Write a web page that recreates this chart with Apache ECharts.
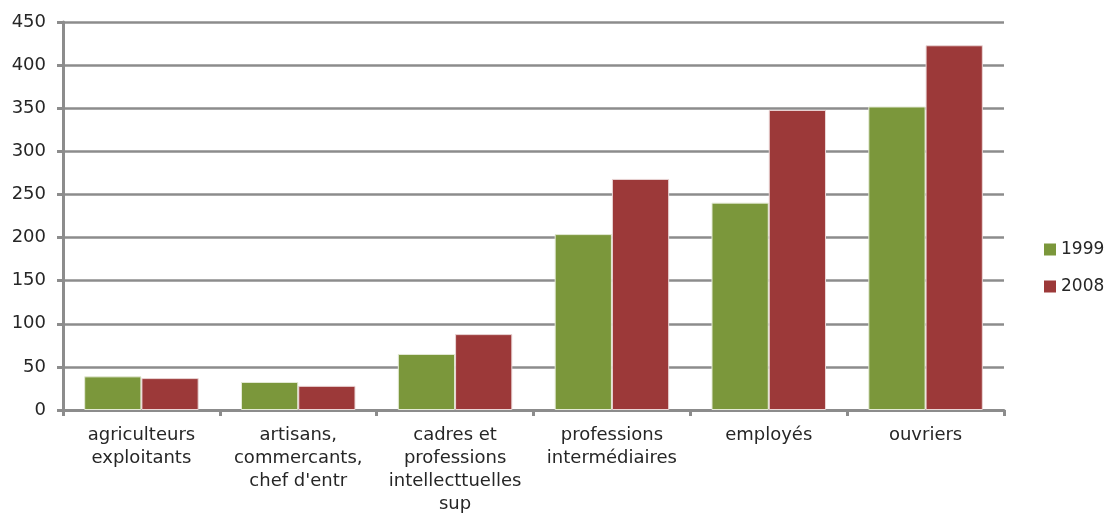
<!DOCTYPE html>
<html>
<head>
<meta charset="utf-8">
<script src="https://cdn.jsdelivr.net/npm/echarts@6/dist/echarts.min.js"></script>
<style>
  html, body { margin: 0; padding: 0; background: #fff; }
  #chart { width: 1110px; height: 517px; }
</style>
</head>
<body>
<div id="chart"></div>
<script>
// Socio-professional categories, counts for 1999 and 2008
const categories = [
  "agriculteurs\nexploitants",
  "artisans,\ncommercants,\nchef d'entr",
  "cadres et\nprofessions\nintellecttuelles\nsup",
  "professions\nintermédiaires",
  "employés",
  "ouvriers"
];
const values1999 = [39, 32.5, 65, 204, 240.5, 352];
const values2008 = [37, 28, 88, 268, 348, 423];
const yTicks = { min: 0, max: 450, interval: 50 };

const gray = '#8c8c8c';
const textColor = '#262626';
const font = '"DejaVu Sans", sans-serif';
const fontSize = 18;

const chart = echarts.init(document.getElementById('chart'), null, { renderer: 'canvas' });
chart.setOption({
  animation: false,
  textStyle: { fontFamily: font },
  grid: { left: 63, right: 106, top: 22, bottom: 107, containLabel: false },
  legend: {
    orient: 'vertical',
    left: 1044,
    top: 241,
    padding: 0,
    itemWidth: 12,
    itemHeight: 12,
    itemGap: 20,
    icon: 'rect',
    itemStyle: { borderWidth: 0 },
    textStyle: { fontFamily: font, fontSize: 17, color: textColor },
    data: ['1999', '2008']
  },
  xAxis: {
    type: 'category',
    data: categories,
    axisLine: { lineStyle: { color: gray, width: 3 } },
    axisTick: { show: true, length: 6, interval: 0, lineStyle: { color: gray, width: 3 } },
    axisLabel: {
      interval: 0,
      margin: 14,
      fontFamily: font,
      fontSize: fontSize,
      lineHeight: 23,
      color: textColor
    }
  },
  yAxis: {
    type: 'value',
    min: yTicks.min,
    max: yTicks.max,
    interval: yTicks.interval,
    axisLine: { show: true, lineStyle: { color: gray, width: 3 } },
    axisTick: { show: true, length: 6, lineStyle: { color: gray, width: 3 } },
    splitLine: { show: true, lineStyle: { color: gray, width: 2.5 } },
    axisLabel: { margin: 17, fontFamily: font, fontSize: fontSize, color: textColor }
  },
  series: [
    {
      name: '1999',
      type: 'bar',
      data: values1999,
      barGap: '0%',
      barCategoryGap: '27%',
      itemStyle: { color: '#7b973b', borderColor: '#e4ead6', borderWidth: 1 }
    },
    {
      name: '2008',
      type: 'bar',
      data: values2008,
      barGap: '0%',
      barCategoryGap: '27%',
      itemStyle: { color: '#9c3939', borderColor: '#ead6d6', borderWidth: 1 }
    }
  ]
});
</script>
</body>
</html>
